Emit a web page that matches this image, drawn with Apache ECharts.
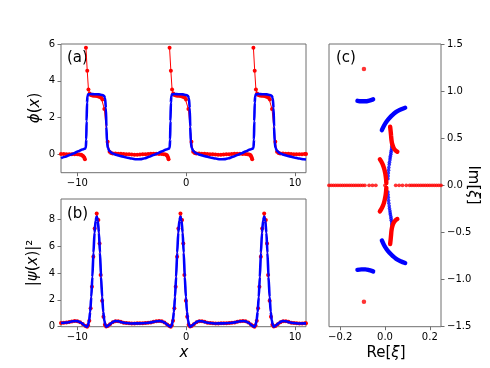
<!DOCTYPE html>
<html>
<head>
<meta charset="utf-8">
<script src="https://cdn.jsdelivr.net/npm/echarts@6/dist/echarts.min.js"></script>
<style>
  html, body { margin: 0; padding: 0; background: #fff; }
  #main { width: 490px; height: 368px; }
</style>
</head>
<body>
<div id="main"></div>
<script>
// ---- panel (a): phi(x) ----
const phiTicksX = [-10, 0, 10];
const phiTicksY = [0, 2, 4, 6];

// numerical phase (red dots), split where the phase wraps
const phiRed1 = [[-11.5,0.02],[-11.25,0.02],[-11,0.01],[-10.75,0.01],[-10.5,0],[-10.25,0],[-10,0],[-9.8,-0.01],[-9.65,-0.03],[-9.55,-0.06],[-9.45,-0.11],[-9.37,-0.18],[-9.3,-0.27]];
const phiRed2 = [[-9.21,5.8],[-9.09,4.54],[-8.98,3.53],[-8.87,3.31],[-8.76,3.22],[-8.62,3.2],[-8.48,3.19],[-8.34,3.18],[-8.2,3.17],[-8.06,3.15],[-7.92,3.12],[-7.8,3.07],[-7.7,2.98],[-7.52,2.46],[-7.22,0.69],[-7.04,0.14],[-6.9,0.07],[-6.75,0.05],[-6.5,0.04],[-6.25,0.03],[-6,0.03],[-5.75,0.02],[-5.5,0.01],[-5.25,0],[-5,-0.01],[-4.75,-0.02],[-4.5,-0.02],[-4.25,-0.01],[-4,0],[-3.75,0.01],[-3.5,0.02],[-3.25,0.03],[-3,0.03],[-2.75,0.03],[-2.5,0.02],[-2.25,0.02],[-2.05,0.01],[-1.9,-0.01],[-1.8,-0.04],[-1.73,-0.09],[-1.67,-0.17],[-1.62,-0.27]];
const phiRed3 = [[-1.53,5.8],[-1.41,4.54],[-1.3,3.53],[-1.19,3.31],[-1.08,3.22],[-0.94,3.2],[-0.8,3.19],[-0.66,3.18],[-0.52,3.17],[-0.38,3.15],[-0.24,3.12],[-0.12,3.07],[-0.02,2.98],[0.2,2.46],[0.48,0.69],[0.64,0.14],[0.78,0.07],[0.93,0.05],[1.18,0.04],[1.43,0.03],[1.68,0.03],[1.93,0.02],[2.18,0.01],[2.43,0],[2.68,-0.01],[2.93,-0.02],[3.18,-0.02],[3.43,-0.01],[3.68,0],[3.93,0.01],[4.18,0.02],[4.43,0.03],[4.68,0.03],[4.93,0.03],[5.18,0.02],[5.43,0.02],[5.63,0.01],[5.78,-0.01],[5.88,-0.04],[5.95,-0.09],[6.01,-0.17],[6.06,-0.27]];
const phiRed4 = [[6.17,5.8],[6.29,4.54],[6.4,3.53],[6.51,3.31],[6.62,3.22],[6.76,3.2],[6.9,3.19],[7.04,3.18],[7.18,3.17],[7.32,3.15],[7.46,3.12],[7.58,3.07],[7.68,2.98],[7.88,2.46],[8.18,0.69],[8.34,0.14],[8.48,0.07],[8.63,0.05],[8.88,0.04],[9.13,0.03],[9.38,0.03],[9.63,0.02],[9.88,0.01],[10.13,0],[10.38,0],[10.63,0.01],[10.88,0.02],[11,0.02]];

// analytic phase (blue line)
const phiBlue = [[-11.5,-0.21],[-11.1,-0.13],[-10.7,-0.04],[-10.3,0.06],[-9.9,0.17],[-9.55,0.26],[-9.3,0.31],[-9.22,0.36],[-9.18,0.8],[-9.15,1.8],[-9.11,2.8],[-9.07,3.15],[-9,3.26],[-8.8,3.28],[-8.4,3.27],[-8,3.26],[-7.7,3.23],[-7.55,3.18],[-7.45,3.05],[-7.38,2.5],[-7.33,1.5],[-7.28,0.7],[-7.2,0.35],[-7.05,0.18],[-6.8,0.06],[-6.4,-0.03],[-6,-0.1],[-5.5,-0.17],[-5,-0.23],[-4.6,-0.27],[-4.2,-0.26],[-3.8,-0.21],[-3.4,-0.13],[-3,-0.04],[-2.6,0.06],[-2.2,0.17],[-1.85,0.26],[-1.6,0.31],[-1.52,0.36],[-1.48,0.8],[-1.45,1.8],[-1.41,2.8],[-1.37,3.15],[-1.3,3.26],[-1.1,3.28],[-0.7,3.27],[-0.3,3.26],[0,3.23],[0.15,3.18],[0.25,3.05],[0.32,2.5],[0.37,1.5],[0.42,0.7],[0.5,0.35],[0.65,0.18],[0.9,0.06],[1.3,-0.03],[1.7,-0.1],[2.2,-0.17],[2.7,-0.23],[3.1,-0.27],[3.5,-0.26],[3.9,-0.21],[4.3,-0.13],[4.7,-0.04],[5.1,0.06],[5.5,0.17],[5.85,0.26],[6.1,0.31],[6.18,0.36],[6.22,0.8],[6.25,1.8],[6.29,2.8],[6.33,3.15],[6.4,3.26],[6.6,3.28],[7,3.27],[7.4,3.26],[7.7,3.23],[7.85,3.18],[7.95,3.05],[8.02,2.5],[8.07,1.5],[8.12,0.7],[8.2,0.35],[8.35,0.18],[8.6,0.06],[9,-0.03],[9.4,-0.1],[9.9,-0.17],[10.4,-0.23],[10.8,-0.27],[11,-0.28]];

// ---- panel (b): |psi(x)|^2 ----
const psiTicksY = [0, 2, 4, 6, 8];

const psiRed = [[-11.5,0.27],[-11.25,0.29],[-11,0.31],[-10.75,0.35],[-10.5,0.39],[-10.25,0.42],[-10,0.41],[-9.75,0.34],[-9.5,0.21],[-9.25,0.05],[-9.1,0],[-9.02,0.1],[-8.9,0.45],[-8.78,1.37],[-8.66,2.97],[-8.53,5.2],[-8.41,7.31],[-8.22,8.42],[-8.07,7.93],[-7.96,6.19],[-7.86,3.84],[-7.72,1.93],[-7.6,0.74],[-7.47,0.15],[-7.35,0.02],[-7.2,0.05],[-7,0.19],[-6.75,0.33],[-6.5,0.41],[-6.25,0.41],[-6,0.36],[-5.75,0.3],[-5.5,0.27],[-5.25,0.25],[-5,0.24],[-4.75,0.24],[-4.5,0.25],[-4.25,0.25],[-4,0.26],[-3.75,0.27],[-3.5,0.29],[-3.25,0.32],[-3,0.36],[-2.75,0.4],[-2.5,0.42],[-2.25,0.4],[-2,0.32],[-1.75,0.17],[-1.55,0.05],[-1.42,0],[-1.33,0.1],[-1.21,0.45],[-1.09,1.37],[-0.97,2.97],[-0.84,5.2],[-0.72,7.31],[-0.53,8.42],[-0.38,7.93],[-0.27,6.19],[-0.17,3.84],[-0.03,1.93],[0.09,0.74],[0.22,0.15],[0.35,0.02],[0.5,0.05],[0.7,0.19],[0.95,0.33],[1.2,0.41],[1.45,0.41],[1.7,0.36],[1.95,0.3],[2.2,0.27],[2.45,0.25],[2.7,0.24],[2.95,0.24],[3.2,0.25],[3.45,0.25],[3.7,0.26],[3.95,0.27],[4.2,0.29],[4.45,0.32],[4.7,0.36],[4.95,0.4],[5.2,0.42],[5.45,0.4],[5.7,0.32],[5.95,0.17],[6.15,0.05],[6.27,0],[6.36,0.1],[6.48,0.45],[6.6,1.37],[6.72,2.97],[6.85,5.2],[6.97,7.31],[7.16,8.42],[7.31,7.93],[7.42,6.19],[7.52,3.84],[7.66,1.93],[7.78,0.74],[7.91,0.15],[8.04,0.02],[8.2,0.05],[8.4,0.19],[8.65,0.33],[8.9,0.41],[9.15,0.41],[9.4,0.36],[9.65,0.3],[9.9,0.27],[10.15,0.25],[10.4,0.24],[10.65,0.24],[10.9,0.25],[11,0.25]];

const psiBlue = [[-11.5,0.27],[-11,0.31],[-10.42,0.4],[-10.12,0.42],[-9.87,0.38],[-9.62,0.28],[-9.42,0.15],[-9.27,0.05],[-9.12,0],[-9.02,0.1],[-8.92,0.45],[-8.82,1.1],[-8.72,2.2],[-8.62,3.7],[-8.52,5.5],[-8.42,7],[-8.32,7.9],[-8.22,8.2],[-8.12,7.9],[-8.02,7],[-7.92,5.5],[-7.82,3.7],[-7.72,2.2],[-7.62,1.1],[-7.52,0.45],[-7.42,0.1],[-7.32,0],[-7.22,0.04],[-7.07,0.14],[-6.87,0.28],[-6.67,0.38],[-6.47,0.42],[-6.22,0.4],[-5.92,0.33],[-5.52,0.27],[-5.02,0.24],[-4.37,0.25],[-3.72,0.27],[-3.22,0.32],[-2.73,0.4],[-2.43,0.42],[-2.18,0.38],[-1.93,0.28],[-1.73,0.15],[-1.58,0.05],[-1.43,0],[-1.33,0.1],[-1.23,0.45],[-1.13,1.1],[-1.03,2.2],[-0.93,3.7],[-0.83,5.5],[-0.73,7],[-0.63,7.9],[-0.53,8.2],[-0.43,7.9],[-0.33,7],[-0.23,5.5],[-0.13,3.7],[-0.03,2.2],[0.07,1.1],[0.17,0.45],[0.27,0.1],[0.37,0],[0.47,0.04],[0.62,0.14],[0.82,0.28],[1.02,0.38],[1.22,0.42],[1.47,0.4],[1.77,0.33],[2.17,0.27],[2.67,0.24],[3.32,0.25],[3.97,0.27],[4.47,0.32],[4.96,0.4],[5.26,0.42],[5.51,0.38],[5.76,0.28],[5.96,0.15],[6.11,0.05],[6.26,0],[6.36,0.1],[6.46,0.45],[6.56,1.1],[6.66,2.2],[6.76,3.7],[6.86,5.5],[6.96,7],[7.06,7.9],[7.16,8.2],[7.26,7.9],[7.36,7],[7.46,5.5],[7.56,3.7],[7.66,2.2],[7.76,1.1],[7.86,0.45],[7.96,0.1],[8.06,0],[8.16,0.04],[8.31,0.14],[8.51,0.28],[8.71,0.38],[8.91,0.42],[9.16,0.4],[9.46,0.33],[9.86,0.27],[10.36,0.24],[11,0.25]];

// ---- panel (c): spectrum in the complex xi plane ----
const specTicksX = [-0.2, 0, 0.2];
const specTicksY = [-1.5, -1, -0.5, 0, 0.5, 1, 1.5];

// real eigenvalues (red, on Im = 0)
const specRealX = [-0.25,-0.24,-0.23,-0.22,-0.21,-0.2,-0.19,-0.18,-0.17,-0.16,-0.15,-0.14,-0.13,-0.12,-0.11,-0.1,-0.09,-0.071,-0.056,-0.041,0,0.048,0.063,0.078,0.095,0.11,0.12,0.13,0.14,0.15,0.16,0.17,0.18,0.19,0.2,0.21,0.22,0.23,0.24,0.25];
const specRedIsolated = [[-0.094,1.235],[-0.094,-1.235]];
const specRedMidUp = [[-0.023,0.276],[-0.016,0.25],[-0.009,0.215],[-0.004,0.18],[0,0.14],[0.003,0.1],[0.005,0.06],[0.006,0.025]];
const specRedMidDn = [[-0.023,-0.276],[-0.016,-0.25],[-0.009,-0.215],[-0.004,-0.18],[0,-0.14],[0.003,-0.1],[0.005,-0.06],[0.006,-0.025]];
const specRedHookUp = [[0.023,0.623],[0.025,0.58],[0.027,0.53],[0.029,0.48],[0.032,0.44],[0.038,0.4],[0.046,0.372],[0.055,0.357]];
const specRedHookDn = [[0.023,-0.623],[0.025,-0.58],[0.027,-0.53],[0.029,-0.48],[0.032,-0.44],[0.038,-0.4],[0.046,-0.372],[0.055,-0.357]];

const specBlueSmallUp = [[-0.123,0.897],[-0.105,0.892],[-0.088,0.892],[-0.07,0.9],[-0.053,0.913]];
const specBlueSmallDn = [[-0.123,-0.897],[-0.105,-0.892],[-0.088,-0.892],[-0.07,-0.9],[-0.053,-0.913]];
const specBlueBigUp = [[-0.014,0.585],[-0.004,0.635],[0.008,0.68],[0.02,0.715],[0.035,0.75],[0.05,0.78],[0.07,0.805],[0.09,0.824]];
const specBlueBigDn = [[-0.014,-0.585],[-0.004,-0.635],[0.008,-0.68],[0.02,-0.715],[0.035,-0.75],[0.05,-0.78],[0.07,-0.805],[0.09,-0.824]];
const specBlueChain = [[0.031,0.45],[0.031,0.43],[0.03,0.41],[0.03,0.39],[0.028,0.37],[0.027,0.35],[0.026,0.33],[0.024,0.31],[0.023,0.29],[0.022,0.27],[0.02,0.245],[0.019,0.22],[0.017,0.19],[0.016,0.16],[0.015,0.13],[0.014,0.1],[0.013,0.07],
  [0.031,-0.45],[0.031,-0.43],[0.03,-0.41],[0.03,-0.39],[0.028,-0.37],[0.027,-0.35],[0.026,-0.33],[0.024,-0.31],[0.023,-0.29],[0.022,-0.27],[0.02,-0.245],[0.019,-0.22],[0.017,-0.19],[0.016,-0.16],[0.015,-0.13],[0.014,-0.1],[0.013,-0.07]];

const RED = '#ff0000';
const BLUE = '#0000ff';
const FRAME = '#6f6f6f';
const FONT = 'DejaVu Sans';

const minus = s => String(s).replace('-', '\u2212');

function axis(grid, min, max, ticks, fmt, extra) {
  return Object.assign({
    type: 'value', gridIndex: grid, min: min, max: max,
    axisLine: { show: false, onZero: false },
    splitLine: { show: false },
    axisTick: { show: true, length: 3.5, customValues: ticks, lineStyle: { color: FRAME, width: 1 } },
    axisLabel: { customValues: ticks, margin: 6, color: '#000', fontSize: 10, fontFamily: FONT, formatter: fmt }
  }, extra || {});
}

const fmtInt = v => minus(v);
const fmt1 = v => minus(Number(v).toFixed(1));

// red '.-' style series
function redDots(data, xi, yi) {
  return {
    type: 'line', xAxisIndex: xi, yAxisIndex: yi, data: data,
    symbol: 'circle', symbolSize: 4, showSymbol: true, showAllSymbol: true,
    lineStyle: { color: RED, width: 1 }, itemStyle: { color: RED },
    animation: false, silent: true, z: 2
  };
}
function blueLine(data, xi, yi) {
  return {
    type: 'line', xAxisIndex: xi, yAxisIndex: yi, data: data,
    symbol: 'none', smooth: 0.25, smoothMonotone: 'x',
    lineStyle: { color: BLUE, width: 2.6 },
    animation: false, silent: true, z: 3
  };
}
function arc(data, color) {
  return {
    type: 'line', xAxisIndex: 2, yAxisIndex: 2, data: data,
    symbol: 'none', smooth: 0.4,
    lineStyle: { color: color, width: 4.4, cap: 'round' },
    animation: false, silent: true, z: color === RED ? 4 : 3
  };
}
function dots(data, color, size) {
  return {
    type: 'scatter', xAxisIndex: 2, yAxisIndex: 2, data: data,
    symbol: 'circle', symbolSize: size, itemStyle: { color: color },
    animation: false, silent: true, z: color === RED ? 4 : 3
  };
}

const gridBox = { show: true, borderColor: FRAME, borderWidth: 1, backgroundColor: 'transparent', containLabel: false };

const rich = {
  i: { fontStyle: 'italic', fontSize: 15, fontFamily: FONT, fill: '#000' }
};
function label(x, y, text, rot) {
  return {
    type: 'text', x: x, y: y, rotation: rot || 0, silent: true,
    style: { text: text, rich: rich, fontSize: 15, fontFamily: FONT, fill: '#000', align: 'center', verticalAlign: 'middle' }
  };
}

const option = {
  animation: false,
  backgroundColor: '#fff',
  grid: [
    Object.assign({ left: 61, top: 44, width: 245, height: 128.7 }, gridBox),
    Object.assign({ left: 61, top: 199, width: 245, height: 127.7 }, gridBox),
    Object.assign({ left: 329, top: 44, width: 112, height: 282.7 }, gridBox)
  ],
  xAxis: [
    axis(0, -11.5, 11, phiTicksX, fmtInt),
    axis(1, -11.5, 11, phiTicksX, fmtInt),
    axis(2, -0.25, 0.25, specTicksX, fmt1)
  ],
  yAxis: [
    axis(0, -1, 6, phiTicksY, fmtInt),
    axis(1, 0, 9.5, psiTicksY, fmtInt),
    axis(2, -1.5, 1.5, specTicksY, fmt1, { position: 'right' })
  ],
  series: [
    redDots(phiRed1, 0, 0), redDots(phiRed2, 0, 0), redDots(phiRed3, 0, 0), redDots(phiRed4, 0, 0),
    blueLine(phiBlue, 0, 0),
    redDots(psiRed, 1, 1),
    blueLine(psiBlue, 1, 1),
    arc(specBlueSmallUp, BLUE), arc(specBlueSmallDn, BLUE),
    arc(specBlueBigUp, BLUE), arc(specBlueBigDn, BLUE),
    dots(specBlueChain, BLUE, 3.6),
    arc(specRedMidUp, RED), arc(specRedMidDn, RED),
    arc(specRedHookUp, RED), arc(specRedHookDn, RED),
    dots(specRealX.map(x => [x, 0]), RED, 3.8),
    dots(specRedIsolated, RED, 4.5)
  ],
  graphic: [
    { type: 'text', x: 67, y: 51, silent: true, style: { text: '(a)', fontSize: 15, fontFamily: FONT, fill: '#000' } },
    { type: 'text', x: 67, y: 207, silent: true, style: { text: '(b)', fontSize: 15, fontFamily: FONT, fill: '#000' } },
    { type: 'text', x: 336, y: 51, silent: true, style: { text: '(c)', fontSize: 15, fontFamily: FONT, fill: '#000' } },
    label(35, 108, '{i|\u03d5}({i|x})', Math.PI / 2),
    label(33, 263, '|{i|\u03c8}({i|x})|\u00b2', Math.PI / 2),
    label(184, 353, '{i|x}'),
    label(386, 353, 'Re[{i|\u03be}]'),
    label(473, 185, 'Im[{i|\u03be}]', -Math.PI / 2)
  ]
};

const chart = echarts.init(document.getElementById('main'), null, { renderer: 'canvas' });
chart.setOption(option);
</script>
</body>
</html>
